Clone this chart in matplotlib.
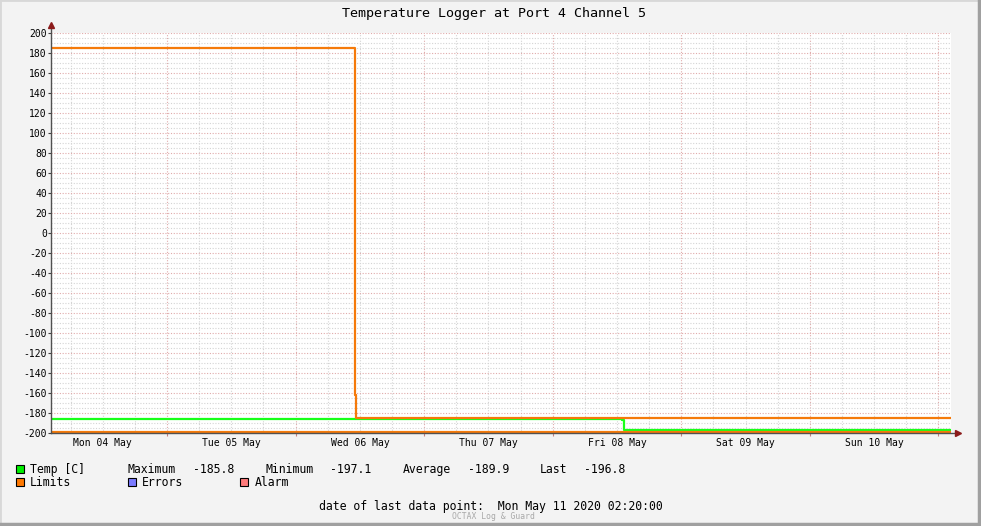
import matplotlib
matplotlib.use('Agg')
import matplotlib.pyplot as plt
import matplotlib.dates as mdates
import pandas as pd
import numpy as np

# data
temp_times = ['2020-05-04 02:20', '2020-05-08 13:00', '2020-05-08 13:20', '2020-05-11 02:20']
temp_values = [-186.0, -186.8, -196.9, -196.9]

limit_hi_times = ['2020-05-04 02:20', '2020-05-06 11:00', '2020-05-06 11:20', '2020-05-11 02:20']
limit_hi_values = [185.0, -162.0, -185.0, -185.0]

limit_lo_times = ['2020-05-04 02:20', '2020-05-11 02:20']
limit_lo_values = [-199.0, -199.0]

day_labels = ['Mon 04 May', 'Tue 05 May', 'Wed 06 May', 'Thu 07 May',
              'Fri 08 May', 'Sat 09 May', 'Sun 10 May']
day_dates = pd.date_range('2020-05-04', periods=7, freq='D')

stats_names = ['Maximum', 'Minimum', 'Average', 'Last']
stats_values = ['-185.8', '-197.1', '-189.9', '-196.8']

t_start = pd.Timestamp('2020-05-04 02:20')
t_end = pd.Timestamp('2020-05-11 02:20')

W, H = 981, 526
mono = 'DejaVu Sans Mono'
plt.rcParams['font.family'] = mono
plt.rcParams['axes.unicode_minus'] = False

fig = plt.figure(figsize=(W / 100, H / 100), dpi=100)
fig.patch.set_facecolor('#f3f3f3')

# plot area in pixels: x 51..951, y 33..433
ax = fig.add_axes([51 / W, (H - 433) / H, 900 / W, 400 / H])
ax.set_facecolor('white')

green = '#19ff19'
orange = '#f57a0a'

ax.step(pd.to_datetime(limit_lo_times), limit_lo_values, where='post', color=orange, lw=1.6, zorder=4)
ax.step(pd.to_datetime(limit_hi_times), limit_hi_values, where='post', color=orange, lw=1.6, zorder=4)
ax.step(pd.to_datetime(temp_times), temp_values, where='post', color=green, lw=1.6, zorder=3)

ax.set_xlim(t_start, t_end)
ax.set_ylim(-200, 200)

# grid: minor 6h / 5 units grey, major midnight / 20 units reddish
ax.xaxis.set_major_locator(mdates.DayLocator())
ax.xaxis.set_minor_locator(mdates.HourLocator(byhour=[6, 12, 18]))
ax.set_yticks(np.arange(-200, 201, 20))
ax.set_yticks(np.arange(-200, 201, 5), minor=True)
ax.grid(which='minor', color='#d4d4d4', lw=0.8, ls=(0, (1, 1.5)), zorder=0)
ax.grid(which='major', color='#e0aaaa', lw=0.8, ls=(0, (1, 1.5)), zorder=1)
ax.xaxis.set_major_formatter(plt.NullFormatter())
ax.tick_params(axis='x', which='major', length=2, color='#c08080')
ax.tick_params(axis='x', which='minor', length=0)
ax.tick_params(axis='y', which='major', length=2, color='#404040', labelsize=7, pad=1)
ax.tick_params(axis='y', which='minor', length=0)

for s in ax.spines.values():
    s.set_visible(False)

# axis lines with arrows
ax.plot([0, 0], [0, 1.015], transform=ax.transAxes, color='#505050', lw=1, clip_on=False, zorder=5)
ax.plot([0, 1.008], [0, 0], transform=ax.transAxes, color='#505050', lw=1, clip_on=False, zorder=5)
ax.plot([0], [1.02], transform=ax.transAxes, marker='^', color='#8b1a1a', ms=5, clip_on=False, zorder=6)
ax.plot([1.008], [0], transform=ax.transAxes, marker='>', color='#8b1a1a', ms=5, clip_on=False, zorder=6)

# day labels at noon
for d, lab in zip(day_dates, day_labels):
    ax.text(d + pd.Timedelta(hours=12), -205, lab, ha='center', va='top', fontsize=7, color='black')

# title
fig.text(494 / W, 1 - 13 / H, 'Temperature Logger at Port 4 Channel 5', ha='center', va='center', fontsize=9.6)

# legend
def square(x, y, color):
    fig.patches.append(plt.Rectangle((x / W, 1 - (y + 4) / H), 8 / W, 8 / H, transform=fig.transFigure,
                                     facecolor=color, edgecolor='black', lw=0.8))

fs = 8.3
row1, row2 = 473, 486
square(16, 469, '#00ee00')
fig.text(30 / W, 1 - row1 / H, 'Temp [C]', va='baseline', fontsize=fs)
for i, (n, v) in enumerate(zip(stats_names, stats_values)):
    xn = [128, 265, 403, 540][i]
    xv = [193, 330, 468, 584][i]
    fig.text(xn / W, 1 - row1 / H, n, va='baseline', fontsize=fs)
    fig.text(xv / W, 1 - row1 / H, v, va='baseline', fontsize=fs)

square(16, 482, '#ff7800')
fig.text(30 / W, 1 - row2 / H, 'Limits', va='baseline', fontsize=fs)
square(128, 482, '#7b7bff')
fig.text(142 / W, 1 - row2 / H, 'Errors', va='baseline', fontsize=fs)
square(240, 482, '#ff7b7b')
fig.text(255 / W, 1 - row2 / H, 'Alarm', va='baseline', fontsize=fs)

fig.text(491 / W, 1 - 510 / H, 'date of last data point:  Mon May 11 2020 02:20:00',
         ha='center', va='baseline', fontsize=fs)
fig.text(493 / W, 1 - 519 / H, 'OCTAX Log & Guard', ha='center', va='baseline', fontsize=5.8,
         color='#a8a8a8', family=mono)

# 3d-ish border
fig.lines.append(plt.Line2D([0, 0, 1], [0, 1, 1], transform=fig.transFigure, color='#d8d8d8', lw=2))
fig.lines.append(plt.Line2D([1 - 2 / W, 1 - 2 / W], [0, 1], transform=fig.transFigure, color='#a0a0a0', lw=2.5))
fig.lines.append(plt.Line2D([0, 1], [2 / H, 2 / H], transform=fig.transFigure, color='#a0a0a0', lw=2.5))

fig.savefig('out.png', dpi=100, facecolor=fig.get_facecolor())
